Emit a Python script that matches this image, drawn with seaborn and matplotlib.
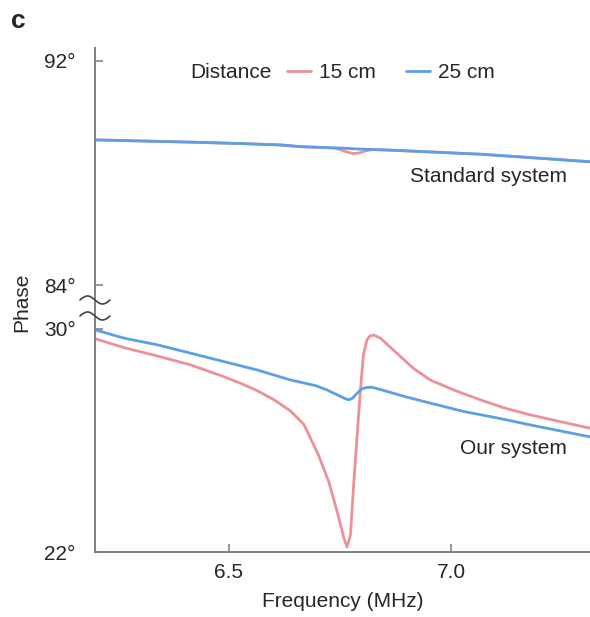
import numpy as np
import pandas as pd
import matplotlib
matplotlib.use("Agg")
import matplotlib.pyplot as plt
from matplotlib.lines import Line2D
import seaborn as sns

# ─── Data ─────────────────────────────────────────────────────────────────────

# standard system, upper panel
std_freq_15 = [6.202, 6.415, 6.527, 6.617, 6.661, 6.735, 6.750, 6.765, 6.781, 6.795, 6.808, 6.825,
               6.884, 7.065, 7.177, 7.312]
std_phase_15 = [89.18, 89.10, 89.05, 89.00, 88.94, 88.89, 88.84, 88.75, 88.69, 88.72, 88.79, 88.84,
                88.80, 88.67, 88.55, 88.40]
std_freq_25 = [6.202, 6.415, 6.527, 6.617, 6.661, 6.751, 6.785, 6.818, 6.884, 7.065, 7.177, 7.312]
std_phase_25 = [89.18, 89.10, 89.05, 89.00, 88.94, 88.89, 88.86, 88.84, 88.80, 88.67, 88.55, 88.40]

# our system, lower panel
our_freq_15 = [6.202, 6.265, 6.340, 6.415, 6.489, 6.527, 6.564, 6.602, 6.639, 6.669, 6.680, 6.702,
               6.725, 6.744, 6.759, 6.766, 6.774, 6.781, 6.789, 6.796, 6.803, 6.811, 6.818, 6.826,
               6.841, 6.878, 6.915, 6.953, 7.009, 7.065, 7.121, 7.177, 7.244, 7.312]
our_phase_15 = [29.64, 29.33, 29.03, 28.71, 28.29, 28.05, 27.79, 27.46, 27.06, 26.58, 26.22, 25.48,
                24.53, 23.45, 22.51, 22.18, 22.62, 24.41, 26.20, 27.75, 29.07, 29.61, 29.75, 29.78,
                29.67, 29.13, 28.59, 28.17, 27.79, 27.46, 27.16, 26.92, 26.68, 26.44]
our_freq_25 = [6.202, 6.265, 6.340, 6.415, 6.489, 6.564, 6.639, 6.695, 6.720, 6.745, 6.762, 6.770,
               6.778, 6.785, 6.799, 6.810, 6.822, 6.845, 6.897, 6.953, 7.028, 7.103, 7.177, 7.312]
our_phase_25 = [29.96, 29.67, 29.43, 29.13, 28.83, 28.53, 28.17, 27.97, 27.82, 27.63, 27.50, 27.46,
                27.51, 27.63, 27.85, 27.90, 27.91, 27.81, 27.57, 27.34, 27.04, 26.81, 26.56, 26.13]

DISTANCES = ["15 cm", "25 cm"]
COLORS = {"15 cm": "#EC9199", "25 cm": "#5C9FE7"}

def _frame(freq, phase, dist, system):
    return pd.DataFrame({"freq": freq, "phase": phase, "distance": dist, "system": system})

df = pd.concat([
    _frame(std_freq_15, std_phase_15, "15 cm", "standard"),
    _frame(std_freq_25, std_phase_25, "25 cm", "standard"),
    _frame(our_freq_15, our_phase_15, "15 cm", "ours"),
    _frame(our_freq_25, our_phase_25, "25 cm", "ours"),
], ignore_index=True)

# ─── Style ────────────────────────────────────────────────────────────────────

sns.set_theme(style="white")
plt.rcParams["font.family"] = ["Liberation Sans", "DejaVu Sans"]
FS = 15
GREY = "#808080"

fig = plt.figure(figsize=(5.9, 6.17), dpi=100)
ax_top = fig.add_axes([0.161, 0.5008, 0.839, 0.4214])
ax_bot = fig.add_axes([0.161, 0.1053, 0.839, 0.3955], sharex=ax_top)

for ax, system in [(ax_top, "standard"), (ax_bot, "ours")]:
    sns.lineplot(data=df[df.system == system], x="freq", y="phase", hue="distance",
                 hue_order=DISTANCES, palette=COLORS, estimator=None, sort=False,
                 linewidth=2.0, legend=False, ax=ax)
    for side in ["top", "right"]:
        ax.spines[side].set_visible(False)
    ax.spines["left"].set_color(GREY)
    ax.spines["left"].set_linewidth(1.4)
    ax.tick_params(axis="y", direction="in", length=6, width=1.2, color=GREY,
                   pad=14, labelsize=FS, left=True)
    ax.set_ylabel("")
    ax.set_xlabel("")

ax_top.set_xlim(6.2, 7.312)
ax_top.set_ylim(83.18, 92.46)
ax_top.set_yticks([84, 92])
ax_top.set_yticklabels(["84°", "92°"])
ax_top.spines["bottom"].set_visible(False)
ax_top.tick_params(axis="x", bottom=False, labelbottom=False)

ax_bot.set_ylim(22, 30.75)
ax_bot.set_yticks([22, 30])
ax_bot.set_yticklabels(["22°", "30°"])
ax_bot.spines["bottom"].set_color(GREY)
ax_bot.spines["bottom"].set_linewidth(1.4)
ax_bot.set_xticks([6.5, 7.0])
ax_bot.set_xticklabels(["6.5", "7.0"])
ax_bot.tick_params(axis="x", direction="in", length=6, width=1.2, color=GREY,
                   pad=8, labelsize=FS, bottom=True)
ax_bot.set_xlabel("Frequency (MHz)", fontsize=FS, labelpad=7)

# panel annotations
ax_top.text(0.9535, 0.504, "Standard system", transform=ax_top.transAxes,
            ha="right", va="center", fontsize=FS)
ax_bot.text(0.9535, 0.426, "Our system", transform=ax_bot.transAxes,
            ha="right", va="center", fontsize=FS)

fig.text(22 / 590, 1 - 302 / 617, "Phase", rotation=90, ha="center", va="center", fontsize=FS)
fig.text(11 / 590, 1 - 21 / 617, "c", ha="left", va="center", fontsize=19, fontweight="bold")

# legend: "Distance" title inline with entries
fig.text(190 / 590, 1 - 73 / 617, "Distance", ha="left", va="center", fontsize=FS)
fig.legend(handles=ax_top.lines[:2], labels=DISTANCES, ncol=2, frameon=False,
           loc="center left", bbox_to_anchor=(287 / 590, 1 - 73 / 617),
           bbox_transform=fig.transFigure, fontsize=FS, handlelength=1.15,
           handletextpad=0.38, columnspacing=1.45, borderpad=0, borderaxespad=0)

# axis-break squiggles
t = np.linspace(0, 1, 60)
for ypx in [300, 316]:
    xs = (80 + 30 * t) / 590
    ys = 1 - (ypx - 4 * np.sin(2 * np.pi * t)) / 617
    fig.add_artist(Line2D(xs, ys, color="#444444", lw=1.2, transform=fig.transFigure))

fig.savefig("out.png", dpi=100)
